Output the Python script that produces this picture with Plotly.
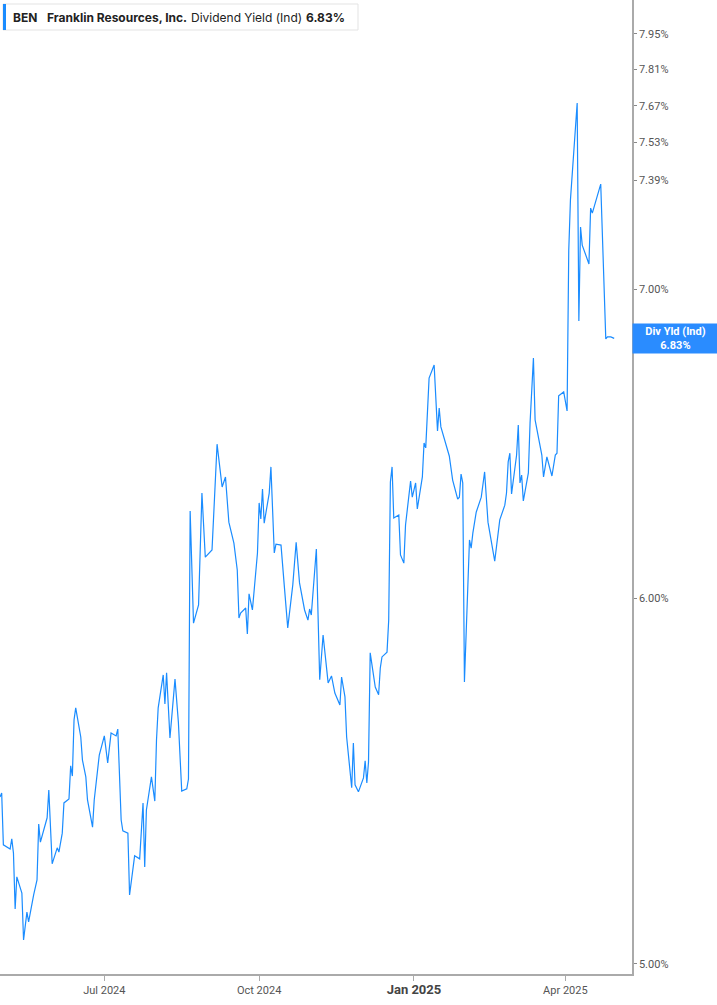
import math
import plotly.graph_objects as go

# Franklin Resources (BEN) indicated dividend yield, %
dates = [
    "2024-04-30", "2024-05-01", "2024-05-02", "2024-05-06", "2024-05-07", "2024-05-08", "2024-05-09",
    "2024-05-10", "2024-05-13", "2024-05-14", "2024-05-16", "2024-05-17", "2024-05-20", "2024-05-22",
    "2024-05-23", "2024-05-24", "2024-05-28", "2024-05-29", "2024-05-31", "2024-06-03", "2024-06-04",
    "2024-06-06", "2024-06-07", "2024-06-10", "2024-06-11", "2024-06-12", "2024-06-13", "2024-06-14",
    "2024-06-17", "2024-06-18", "2024-06-20", "2024-06-21", "2024-06-24", "2024-06-25", "2024-06-28",
    "2024-07-01", "2024-07-03", "2024-07-05", "2024-07-08", "2024-07-09", "2024-07-11", "2024-07-12",
    "2024-07-15", "2024-07-16", "2024-07-19", "2024-07-22", "2024-07-24", "2024-07-25", "2024-07-26",
    "2024-07-29", "2024-07-31", "2024-08-01", "2024-08-02", "2024-08-05", "2024-08-06", "2024-08-07",
    "2024-08-09", "2024-08-12", "2024-08-14", "2024-08-16", "2024-08-19", "2024-08-20", "2024-08-21",
    "2024-08-23", "2024-08-26", "2024-08-28", "2024-08-30", "2024-09-03", "2024-09-06", "2024-09-09",
    "2024-09-11", "2024-09-13", "2024-09-16", "2024-09-18", "2024-09-19", "2024-09-20", "2024-09-23",
    "2024-09-24", "2024-09-25", "2024-09-27", "2024-09-30", "2024-10-01", "2024-10-02", "2024-10-03",
    "2024-10-04", "2024-10-07", "2024-10-08", "2024-10-10", "2024-10-11", "2024-10-14", "2024-10-16",
    "2024-10-18", "2024-10-21", "2024-10-23", "2024-10-25", "2024-10-28", "2024-10-30", "2024-10-31",
    "2024-11-01", "2024-11-04", "2024-11-06", "2024-11-08", "2024-11-11", "2024-11-13", "2024-11-15",
    "2024-11-18", "2024-11-19", "2024-11-21", "2024-11-22", "2024-11-25", "2024-11-26", "2024-11-27",
    "2024-11-29", "2024-12-02", "2024-12-03", "2024-12-04", "2024-12-05", "2024-12-06", "2024-12-09",
    "2024-12-11", "2024-12-12", "2024-12-13", "2024-12-16", "2024-12-17", "2024-12-18", "2024-12-19",
    "2024-12-20", "2024-12-23", "2024-12-24", "2024-12-26", "2024-12-27", "2024-12-30", "2024-12-31",
    "2025-01-02", "2025-01-03", "2025-01-06", "2025-01-07", "2025-01-08", "2025-01-10", "2025-01-13",
    "2025-01-15", "2025-01-16", "2025-01-17", "2025-01-22", "2025-01-24", "2025-01-27", "2025-01-28",
    "2025-01-29", "2025-01-30", "2025-01-31", "2025-02-03", "2025-02-04", "2025-02-05", "2025-02-07",
    "2025-02-10", "2025-02-12", "2025-02-14", "2025-02-18", "2025-02-21", "2025-02-24", "2025-02-25",
    "2025-02-26", "2025-02-27", "2025-02-28", "2025-03-03", "2025-03-04", "2025-03-05", "2025-03-06",
    "2025-03-07", "2025-03-10", "2025-03-11", "2025-03-13", "2025-03-14", "2025-03-18", "2025-03-19",
    "2025-03-21", "2025-03-24", "2025-03-26", "2025-03-27", "2025-03-28", "2025-03-31", "2025-04-02",
    "2025-04-03", "2025-04-04", "2025-04-08", "2025-04-09", "2025-04-10", "2025-04-11", "2025-04-15",
    "2025-04-16", "2025-04-17", "2025-04-22", "2025-04-25", "2025-04-26", "2025-04-28", "2025-04-30",
]
div_yield = [
    5.434, 5.445, 5.306, 5.295, 5.322, 5.284, 5.139,
    5.222, 5.180, 5.060, 5.131, 5.106, 5.175, 5.214,
    5.361, 5.313, 5.378, 5.453, 5.256, 5.298, 5.287,
    5.337, 5.418, 5.429, 5.519, 5.491, 5.647, 5.681,
    5.599, 5.535, 5.489, 5.426, 5.353, 5.426, 5.549,
    5.602, 5.527, 5.610, 5.602, 5.621, 5.372, 5.343,
    5.337, 5.175, 5.277, 5.269, 5.418, 5.248, 5.399,
    5.489, 5.423, 5.590, 5.681, 5.775, 5.692, 5.781,
    5.596, 5.763, 5.641, 5.450, 5.456, 5.483, 6.267,
    5.926, 5.980, 6.323, 6.124, 6.146, 6.479, 6.342,
    6.374, 6.232, 6.167, 6.085, 5.941, 5.956, 5.971,
    5.894, 6.013, 5.965, 6.137, 6.292, 6.242, 6.336,
    6.229, 6.323, 6.406, 6.137, 6.164, 6.161, 6.034,
    5.912, 6.040, 6.170, 6.046, 5.965, 5.935, 5.968,
    5.950, 6.149, 5.761, 5.891, 5.752, 5.772, 5.723,
    5.689, 5.769, 5.712, 5.599, 5.459, 5.582, 5.467,
    5.448, 5.486, 5.533, 5.472, 5.530, 5.839, 5.740,
    5.718, 5.795, 5.827, 5.841, 5.935, 6.358, 6.406,
    6.245, 6.254, 6.131, 6.106, 6.223, 6.361, 6.310,
    6.355, 6.273, 6.374, 6.483, 6.467, 6.696, 6.740,
    6.522, 6.597, 6.535, 6.441, 6.364, 6.304, 6.310,
    6.383, 6.355, 5.755, 6.177, 6.152, 6.198, 6.263,
    6.310, 6.390, 6.232, 6.112, 6.239, 6.285, 6.323,
    6.422, 6.450, 6.320, 6.444, 6.541, 6.355, 6.380,
    6.298, 6.387, 6.548, 6.763, 6.558, 6.444, 6.374,
    6.438, 6.377, 6.444, 6.450, 6.637, 6.650, 6.587,
    7.137, 7.318, 7.680, 6.889, 7.220, 7.155, 7.088,
    7.288, 7.270, 7.376, 6.828, 6.835, 6.835, 6.83,
]

y_ticks = [5.00, 6.00, 7.00, 7.39, 7.53, 7.67, 7.81, 7.95]
x_ticks = ["2024-07-01", "2024-10-01", "2025-01-01", "2025-04-01"]
x_tick_labels = ["Jul 2024", "Oct 2024",
                 "<span style='font-size:13px;color:#444'><b>Jan 2025</b></span>", "Apr 2025"]
last_value = 6.83

BLUE = "#1a8cff"
W, H = 717, 1005
ML, MR, MT, MB = 0, 85, 0, 31
PW, PH = W - ML - MR, H - MT - MB


def px(x):
    return x / PW


def py(y):
    return 1 - y / PH


fig = go.Figure()
fig.add_trace(go.Scatter(x=dates, y=div_yield, mode="lines",
                         line=dict(color=BLUE, width=1.2), hoverinfo="skip"))

fig.update_layout(
    width=W, height=H,
    margin=dict(l=ML, r=MR, t=MT, b=MB),
    paper_bgcolor="white", plot_bgcolor="white",
    showlegend=False,
    font=dict(family="Roboto, Arial, sans-serif", size=11, color="#555"),
)
fig.update_xaxes(
    range=["2024-04-30", "2025-05-10 14:00"],
    tickvals=x_ticks, ticktext=x_tick_labels,
    ticks="outside", ticklen=5, tickcolor="#aaa",
    showline=True, linecolor="#aaa", linewidth=1.5,
    showgrid=False, zeroline=False,
)
fig.update_yaxes(
    type="log", side="right",
    range=[0.6968, 0.90767],
    tickvals=y_ticks, ticktext=[f"{v:.2f}%" for v in y_ticks],
    ticks="outside", ticklen=3, tickcolor="#888",
    showline=True, linecolor="#aaa", linewidth=1.5,
    showgrid=False, zeroline=False,
)

# last value tag on the right axis (log axis -> annotation y in log10 units)
fig.add_annotation(
    x=1, xref="paper", xanchor="left", y=math.log10(last_value), yref="y", yanchor="middle",
    text=f"<b>Div Yld (Ind)<br>{last_value:.2f}%</b>", showarrow=False,
    font=dict(family="Roboto, Arial, sans-serif", size=11, color="white"),
    bgcolor="#2a8cff", width=83, height=27, borderpad=1, align="center",
)

# header box
fig.add_shape(type="rect", xref="paper", yref="paper",
              x0=px(3), x1=px(358), y0=py(30), y1=py(4),
              line=dict(color="#e3e3e3", width=1), fillcolor="white", layer="above")
fig.add_shape(type="rect", xref="paper", yref="paper",
              x0=px(3), x1=px(6), y0=py(30), y1=py(4),
              line=dict(width=0), fillcolor=BLUE, layer="above")
header = [(11, "<b>BEN</b>"), (45, "<b>Franklin Resources, Inc.</b>"),
          (189, "Dividend Yield (Ind)"), (304, "<b>6.83%</b>")]
for hx, txt in header:
    fig.add_annotation(x=px(hx), xref="paper", xanchor="left", y=py(17), yref="paper",
                       yanchor="middle", text=txt, showarrow=False,
                       font=dict(family="Inter, Roboto, sans-serif", size=12, color="#222"))

fig.write_html("out.html", config={"displayModeBar": False},
               post_script="document.body.style.margin = '0';")
